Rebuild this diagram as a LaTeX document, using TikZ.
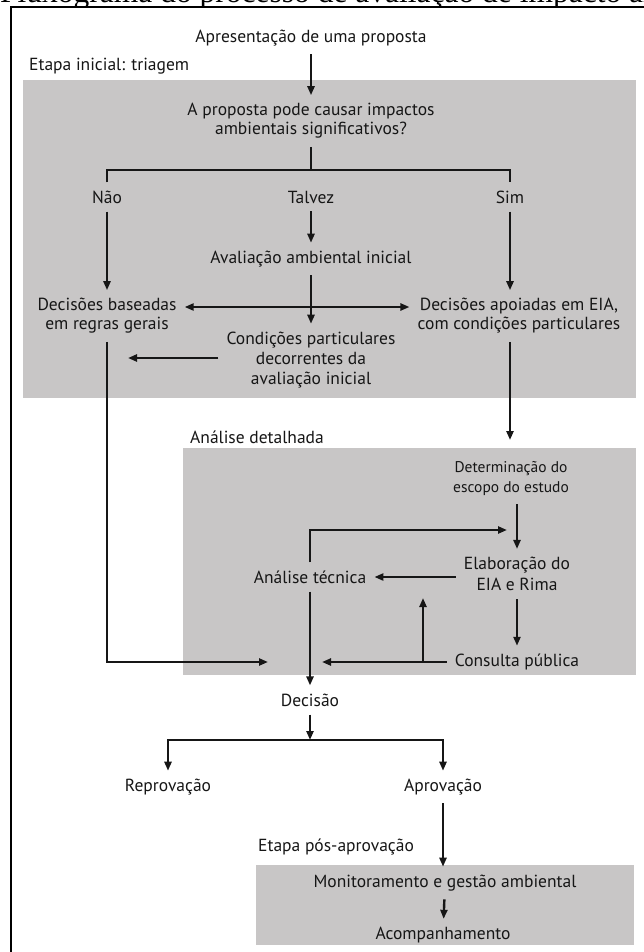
\documentclass[tikz,border=0pt]{standalone}
\usepackage{fontspec}
\setmainfont{PT Sans}
\newfontfamily\capfont{Liberation Serif}
\usetikzlibrary{arrows.meta,calc}
\definecolor{boxgray}{RGB}{200,198,198}
\definecolor{ink}{RGB}{22,22,22}
\begin{document}
\begin{tikzpicture}[x=1pt,y=-1pt,
  lbl/.style={font=\fontsize{17.5}{19}\selectfont, inner sep=8pt, align=center, text=ink},
  tag/.style={font=\fontsize{17.5}{19}\selectfont, inner sep=0pt, anchor=west, text=ink},
  ln/.style={line width=2.4pt, draw=ink},
  arr/.style={ln, -{Triangle[length=9pt,width=7pt]}},
  arrtwo/.style={ln, {Triangle[length=9pt,width=7pt]}-{Triangle[length=9pt,width=7pt]}},
  graybox/.style={fill=boxgray, draw=none}]
\useasboundingbox (0,0) rectangle (644,952);
\fill[white] (0,0) rectangle (644,952);
% clipped caption (only its lower edge is visible in the reference)
\begin{scope}
  \clip (0,0) rectangle (644,6.3);
  \node[anchor=base west, font=\capfont\fontsize{31.5}{31.5}\selectfont, inner sep=0pt, text=black] (cap) at (0,2.6) {Fluxograma do processo de avaliação de impacto ambiental};
\end{scope}
% frame
\draw[line width=2pt, black] (11,952) -- (11,7) -- (644,7);
% gray panels
\fill[graybox] (23,80) rectangle (636,398);
\fill[graybox] (183,448) rectangle (636,675);
\fill[graybox] (256,865) rectangle (634,945);
% labels of stages
\node[tag] (et1) at (29,66) {Etapa inicial: triagem};
\node[tag] (et2) at (190,437) {Análise detalhada};
\node[tag] (et3) at (258,847) {Etapa pós-aprovação};
% nodes
\node[lbl] (apres) at (311,38) {Apresentação de uma proposta};
\node[lbl] (q) at (311,121) {A proposta pode causar impactos\\ambientais significativos?};
\node[lbl] (nao) at (107,197) {Não};
\node[lbl] (talvez) at (311,197) {Talvez};
\node[lbl] (sim) at (510,197) {Sim};
\node[lbl] (aval) at (311,259) {Avaliação ambiental inicial};
\node[lbl] (dec1) at (107,316) {Decisões baseadas\\em regras gerais};
\node[lbl] (dec2) at (519,316) {Decisões apoiadas em EIA,\\com condições particulares};
\node[lbl, font=\fontsize{17.5}{20}\selectfont] (cond) at (311,360) {Condições particulares\\decorrentes da\\avaliação inicial};
\node[lbl, font=\fontsize{15.5}{20}\selectfont] (det) at (511,479) {Determinação do\\escopo do estudo};
\node[lbl, font=\fontsize{17.5}{21}\selectfont] (elab) at (517,574) {Elaboração do\\EIA e Rima};
\node[lbl] (tec) at (310,577) {Análise técnica};
\node[lbl] (cons) at (517,662) {Consulta pública};
\node[lbl] (decisao) at (310,700) {Decisão};
\node[lbl] (reprov) at (168,787) {Reprovação};
\node[lbl] (aprov) at (443,787) {Aprovação};
\node[lbl] (mon) at (445,883) {Monitoramento e gestão ambiental};
\node[lbl] (acomp) at (443,935) {Acompanhamento};
% coordinates
\coordinate (j1) at (311,170);
\coordinate (c1) at (128,358);
\coordinate (c2) at (268,662);
\coordinate (c3) at (510,440);
\coordinate (c4) at (507,530);
\coordinate (c5) at (322,662);
\coordinate (c6) at (423,662);
\coordinate (c7) at (423,598);
\coordinate (j2) at (310,740);
% connectors
\draw[arr] (apres) -- (q);
\draw[ln] (q) -- (j1);
\draw[ln] (nao.north) |- (j1) -| (sim.north);
\draw[arr] (talvez) -- (aval);
\draw[arr] (nao) -- (dec1);
\draw[arr] (sim.south) -- (sim.south |- dec2.north);
\draw[arr] (aval) -- (cond);
\draw[arrtwo] ([yshift=9pt]dec1.east) -- ([yshift=9pt]dec2.west);
\draw[arr] (cond.west |- c1) -- (c1);
\draw[arr] (dec1.south) |- (c2);
\draw[arr] (sim |- dec2.south) -- (c3);
\draw[arr] (elab.north |- det.south) -- (elab.north);
\draw[arr] (tec.north) |- (c4);
\draw[arr] (elab.west |- tec.east) -- (tec.east);
\draw[arr] (elab) -- (cons);
\draw[arr] (cons.west) -- (c5);
\draw[arr] (c6) -- (c7);
\draw[arr] (tec) -- (decisao);
\draw[arr] (decisao) -- (j2);
\draw[arr] (j2) -| (reprov.north);
\draw[arr] (j2) -| (aprov.north);
\draw[arr] (aprov.south) -- (aprov.south |- mon.north);
\draw[arr] (mon) -- (acomp);
\end{tikzpicture}
\end{document}
